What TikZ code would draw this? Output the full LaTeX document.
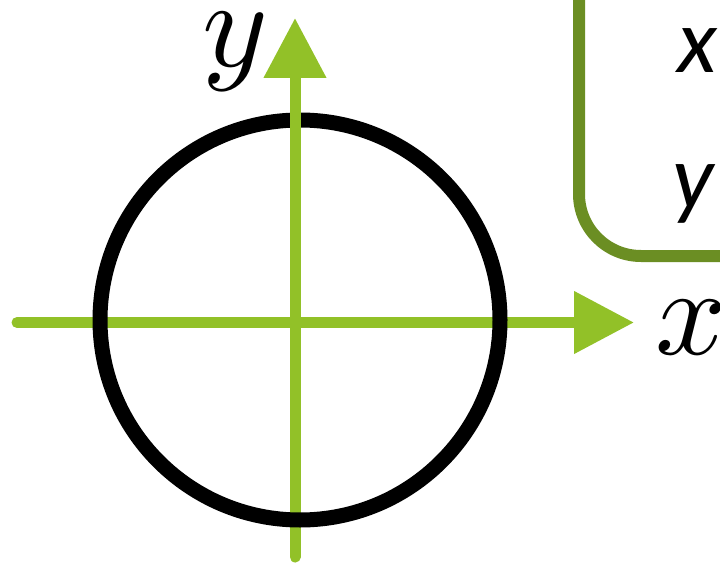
\documentclass[tikz,border=0pt]{standalone}
\usepackage{fontspec}
\newfontfamily\boxfont{Carlito}
\usetikzlibrary{arrows.meta}
\definecolor{axisgreen}{RGB}{146,193,40}
\definecolor{boxgreen}{RGB}{107,142,35}
\begin{document}
\begin{tikzpicture}[x=1pt,y=-1pt,
  axis/.style={draw=axisgreen,line width=11pt,line cap=round},
  axarrow/.style={axis,-{Triangle[length=60pt,width=60pt]}},
  ring/.style={draw=black,line width=15pt},
  infobox/.style={draw=boxgreen,line width=12pt,rounded corners=62pt},
  axlabel/.style={inner sep=0pt,anchor=base west,scale=12.5},
  boxlabel/.style={inner sep=0pt,anchor=base west,font=\boxfont\fontsize{92}{92}\selectfont\itshape}]
\useasboundingbox (0,0) rectangle (720,564);
\clip (0,0) rectangle (720,564);
% info box (partly outside the picture)
\draw[infobox] (579,-80) rectangle (820,256);
\node[boxlabel] (bx) at (677,73) {x};
\node[boxlabel] (by) at (672,209) {y};
% axes and circle
\coordinate (xl) at (17,322.5);
\coordinate (xr) at (634,322.5);
\coordinate (yb) at (295,557);
\coordinate (ym) at (295,322.5);
\coordinate (yt) at (295,18);
\coordinate (c) at (300,320);
\draw[axarrow] (xl) -- (xr);
\draw[axis] (yb) -- (ym);
\draw[ring] (c) circle[radius=200];
\draw[axarrow] (ym) -- (yt);
\node[axlabel] (ylab) at (200,67) {$y$};
\node[axlabel] (xlab) at (653,354) {$x$};
\end{tikzpicture}
\end{document}
